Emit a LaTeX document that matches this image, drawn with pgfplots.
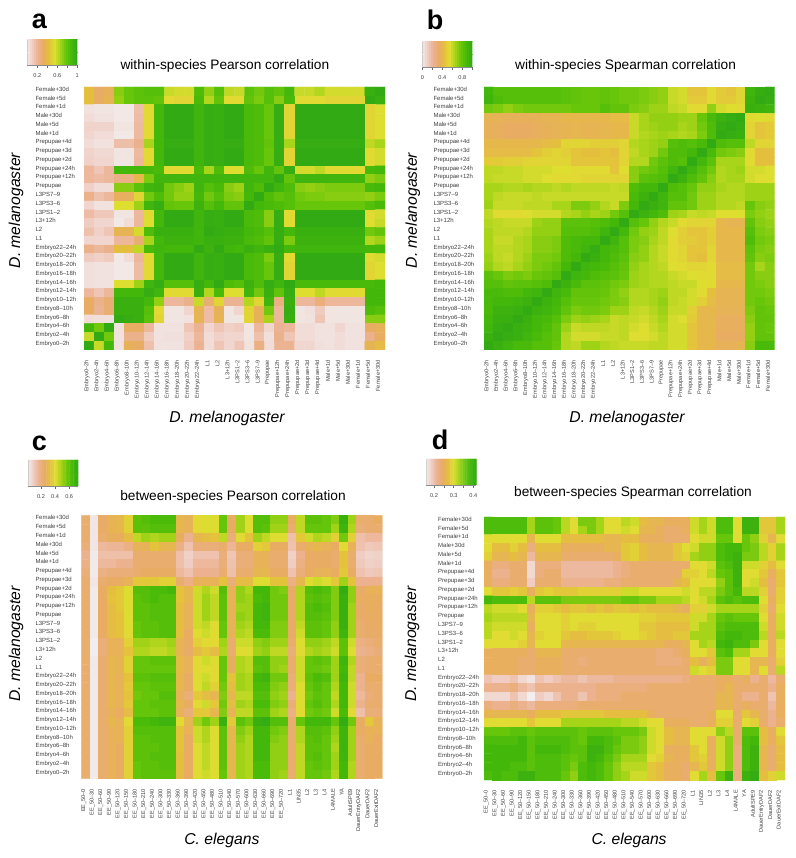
\documentclass[border=0pt]{standalone}
\usepackage{fontspec}
\setmainfont{Liberation Sans}
\usepackage{pgfplots}
\pgfplotsset{compat=1.18}

% rows are written top to bottom, values are correlation x 100
\newcount\rowno
\newcommand{\startmap}{\gdef\cells{}\global\rowno=0 }
\newcommand{\heatrow}[1]{%
  \foreach \v [count=\c from 0] in {#1}{\xdef\cells{\cells (\c,\the\rowno) [\v]}\xdef\lastc{\c}}%
  \ifnum\lastc=\ncols\else\errmessage{row \the\rowno\space has \lastc}\fi
  \global\advance\rowno by 1 }
% key strip: the same values twice, x is the value itself
\newcommand{\barcells}[1]{\gdef\cells{}%
  \foreach \v in {#1}{\xdef\cells{\cells (\v,0) [\v]}}%
  \foreach \v in {#1}{\xdef\cells{\cells (\v,1) [\v]}}}

\def\ncols{29}
\startmap
\heatrow{44,33,36,72,78,82,84,84,60,58,58,86,70,84,62,60,82,76,84,80,90,60,60,64,58,58,58,58,96,100}
\heatrow{44,34,38,70,78,82,82,80,54,52,52,88,64,80,54,54,80,74,84,72,88,54,54,54,52,52,52,52,100,96}
\heatrow{4,3,3,2,2,17,54,90,100,100,100,92,98,97,100,100,88,86,78,98,52,100,100,100,100,100,100,100,52,56}
\heatrow{6,4,4,2,2,18,54,90,100,100,100,92,98,97,100,100,88,86,78,98,52,100,100,100,100,100,100,100,52,56}
\heatrow{9,9,9,3,3,19,54,90,100,100,100,92,98,97,100,100,88,86,78,98,52,100,100,100,100,100,100,100,52,56}
\heatrow{8,6,6,2,2,19,54,90,100,100,100,92,98,97,100,100,88,86,78,98,52,100,100,100,100,100,100,100,52,56}
\heatrow{6,4,4,17,17,24,66,90,98,98,98,92,98,97,98,98,88,86,80,98,66,98,98,98,98,98,98,98,62,66}
\heatrow{9,7,7,3,3,19,54,90,100,100,100,92,98,97,100,100,88,86,78,98,52,100,100,100,100,100,100,100,54,58}
\heatrow{10,8,8,3,3,20,54,90,100,100,100,92,98,97,100,100,88,86,78,98,52,100,100,100,100,100,100,100,54,58}
\heatrow{20,14,20,90,90,90,90,88,54,54,54,88,66,86,56,56,86,78,92,80,98,58,58,62,54,54,54,54,88,90}
\heatrow{20,18,20,25,25,40,74,92,92,92,92,92,92,92,92,92,92,92,92,100,80,92,92,92,92,92,92,92,70,74}
\heatrow{10,6,6,72,72,82,92,94,76,72,68,92,84,88,72,68,92,86,100,92,86,72,70,72,74,74,74,74,88,90}
\heatrow{24,16,20,35,35,52,76,86,76,70,70,90,76,84,74,72,90,100,86,80,84,76,74,74,72,72,72,72,70,74}
\heatrow{8,4,4,56,56,68,92,98,80,78,78,94,84,90,80,80,100,90,88,86,84,78,78,78,78,78,78,78,84,88}
\heatrow{18,13,13,3,3,20,54,90,100,100,100,92,98,97,100,100,88,86,72,98,54,100,100,100,100,100,100,100,54,58}
\heatrow{12,8,8,2,6,20,56,90,100,100,100,92,98,97,100,100,88,86,72,98,54,100,100,100,100,100,100,100,56,60}
\heatrow{16,10,14,38,38,58,86,96,96,96,96,92,100,98,96,96,90,88,84,98,90,96,96,96,96,96,96,96,76,80}
\heatrow{8,8,8,20,20,30,66,90,94,94,94,92,96,96,94,94,88,86,80,98,74,94,94,94,94,94,94,94,64,68}
\heatrow{24,20,24,44,44,62,88,92,90,90,90,100,94,100,92,90,96,92,96,100,90,92,92,92,92,92,92,92,90,90}
\heatrow{12,10,12,2,6,20,54,90,100,100,100,92,98,97,100,100,88,86,74,98,54,100,100,100,100,100,100,100,54,58}
\heatrow{5,4,4,2,2,18,54,90,100,100,100,92,98,97,100,100,88,86,78,98,52,100,100,100,100,100,100,100,52,56}
\heatrow{5,4,4,2,2,18,54,90,100,100,100,92,98,97,100,100,88,86,78,98,52,100,100,100,100,100,100,100,52,56}
\heatrow{5,4,4,56,56,68,92,98,84,84,84,98,90,100,86,84,94,86,98,92,100,88,88,88,88,88,88,88,88,90}
\heatrow{20,14,20,90,90,90,98,92,54,54,54,96,64,88,56,56,92,76,96,80,98,56,56,62,54,54,54,54,90,90}
\heatrow{34,24,30,96,96,96,90,70,20,20,24,60,30,52,22,22,64,52,92,26,96,20,20,28,20,20,20,20,90,90}
\heatrow{34,22,30,96,96,96,84,54,3,3,8,38,18,36,3,8,52,36,76,20,98,3,5,12,3,3,3,3,86,84}
\heatrow{6,5,5,100,98,96,82,52,3,3,4,38,18,38,3,3,52,36,66,20,96,3,4,14,3,3,3,3,72,72}
\heatrow{90,76,100,4,34,34,20,4,4,4,14,22,8,14,10,12,3,20,8,22,20,6,6,4,4,8,4,4,34,36}
\heatrow{60,100,76,4,24,24,12,4,5,5,10,20,6,10,8,8,3,16,5,24,14,6,6,4,4,6,4,4,24,34}
\heatrow{100,60,90,4,36,34,16,4,4,4,12,22,6,14,8,14,4,26,6,22,22,8,8,5,4,6,4,4,38,42}
\global\let\cellsA\cells

\startmap
\heatrow{90,84,84,84,84,84,84,84,82,80,78,78,80,78,76,76,74,72,70,60,58,46,46,54,48,46,52,92,98,100}
\heatrow{92,86,84,84,84,84,84,84,82,80,78,78,80,78,76,76,74,72,70,60,58,48,48,54,48,48,52,94,100,98}
\heatrow{76,74,70,74,76,76,76,76,76,78,78,78,84,80,80,74,72,68,68,62,60,54,54,70,58,56,54,96,94,92}
\heatrow{38,37,36,36,36,36,38,38,40,40,40,40,40,42,42,60,66,70,70,70,68,68,78,88,94,98,100,54,56,54}
\heatrow{36,35,34,34,34,35,36,37,38,39,38,38,39,40,40,60,66,68,70,70,66,68,76,86,98,100,98,52,46,48}
\heatrow{36,35,34,34,34,35,36,37,38,39,38,38,39,40,40,60,64,66,68,66,64,66,74,86,100,98,96,52,46,48}
\heatrow{40,40,40,40,40,40,42,44,52,52,52,50,50,50,52,64,66,68,70,84,86,84,88,100,86,84,84,62,52,52}
\heatrow{42,42,42,42,42,46,50,52,50,46,44,44,46,44,52,62,66,68,76,86,86,90,100,88,76,74,72,54,44,44}
\heatrow{48,48,50,50,52,52,52,52,52,46,46,46,46,46,52,64,64,76,82,86,84,100,90,82,66,66,66,54,44,44}
\heatrow{62,62,60,60,58,58,58,56,56,54,54,54,54,46,56,72,76,78,84,92,100,92,84,76,64,66,68,58,58,56}
\heatrow{62,60,60,60,58,58,56,54,54,54,52,52,52,52,52,72,82,84,86,100,94,86,80,72,64,66,66,58,56,56}
\heatrow{66,66,64,64,66,64,64,62,64,62,62,62,62,60,62,86,90,90,100,86,84,78,70,70,66,64,64,68,68,68}
\heatrow{66,62,60,60,60,62,60,60,60,60,60,60,60,60,60,88,94,100,92,84,84,76,68,68,64,64,64,68,68,68}
\heatrow{68,60,60,60,62,62,62,66,66,74,74,70,64,60,74,90,100,96,92,80,80,76,68,68,64,64,62,78,72,70}
\heatrow{62,54,54,54,56,58,58,58,64,66,70,66,68,76,84,100,94,90,86,68,66,60,62,60,56,56,56,74,70,68}
\heatrow{64,62,60,60,60,68,70,70,82,82,82,84,86,90,100,84,78,70,64,60,54,52,52,52,40,38,38,80,72,70}
\heatrow{66,62,62,62,64,70,70,70,84,84,84,86,92,100,90,76,70,68,62,56,50,46,46,50,40,40,40,84,74,72}
\heatrow{66,60,60,64,66,72,72,74,86,88,90,90,100,92,84,74,72,66,62,54,50,48,46,50,40,40,40,86,76,74}
\heatrow{66,62,62,64,66,72,72,74,86,88,92,98,90,88,84,74,70,64,60,54,52,46,46,52,40,40,40,82,74,72}
\heatrow{68,62,60,64,68,74,74,76,86,90,100,96,90,86,82,72,70,64,60,54,52,46,44,52,40,40,40,80,72,74}
\heatrow{70,64,62,66,70,74,76,80,90,100,92,90,88,84,80,70,66,64,62,56,54,52,52,54,42,42,42,76,66,72}
\heatrow{82,78,74,76,74,78,80,84,100,92,90,86,84,82,78,68,66,64,64,60,58,56,54,54,42,42,42,76,72,72}
\heatrow{84,84,80,82,82,84,86,100,94,88,82,82,80,76,74,68,66,64,64,62,60,60,56,54,40,40,40,76,74,72}
\heatrow{88,88,86,86,90,92,100,92,88,80,80,80,78,74,70,64,64,66,68,62,62,58,54,44,38,38,38,76,76,74}
\heatrow{88,90,90,92,94,100,94,90,84,78,78,78,76,74,72,64,64,66,70,62,60,58,50,42,38,38,38,76,78,76}
\heatrow{88,94,94,96,100,94,92,88,80,74,76,76,74,68,68,62,60,64,68,60,60,50,40,40,37,37,37,74,80,78}
\heatrow{90,96,96,100,96,90,88,84,74,68,70,68,66,60,62,60,58,62,66,58,56,48,40,40,35,35,35,72,80,80}
\heatrow{92,98,100,96,94,90,86,80,68,60,62,62,62,60,62,58,56,60,64,58,58,46,40,40,35,35,35,70,80,78}
\heatrow{96,100,98,96,92,88,84,80,64,58,58,58,60,60,62,56,56,58,62,58,58,46,40,40,34,34,34,70,80,80}
\heatrow{100,96,92,88,88,84,84,78,64,62,68,68,64,62,60,60,60,62,62,58,58,46,40,40,36,36,38,72,88,88}
\global\let\cellsB\cells

\def\ncols{34}
\startmap
\heatrow{24,4,25,29,30,38,60,62,64,64,64,30,28,40,42,42,58,26,50,42,62,62,52,52,26,46,60,60,58,54,70,50,24,24,26}
\heatrow{24,4,25,29,30,38,60,60,62,62,62,30,28,40,42,42,58,26,50,42,62,60,50,50,24,46,58,58,58,50,68,48,22,24,24}
\heatrow{24,4,24,27,27,32,46,50,48,50,50,27,18,30,32,34,46,22,40,34,50,46,42,42,14,36,44,48,46,38,56,38,14,16,16}
\heatrow{22,4,16,17,17,20,28,28,34,30,30,20,13,22,22,22,24,17,26,26,38,36,26,26,13,24,28,30,28,26,40,28,13,11,12}
\heatrow{18,3,14,14,14,14,24,24,24,24,24,14,9,13,13,13,22,12,22,22,28,28,24,24,9,18,26,26,26,24,34,24,10,8,9}
\heatrow{20,3,16,16,18,18,24,24,24,24,24,14,10,16,16,16,22,13,22,22,28,28,24,24,10,20,26,26,26,24,34,24,11,9,10}
\heatrow{22,3,20,22,22,22,24,26,26,26,26,16,13,18,18,18,24,14,24,24,30,30,26,26,13,22,26,28,28,26,36,26,13,11,12}
\heatrow{24,4,24,26,26,28,36,36,36,38,38,24,20,28,28,28,34,22,32,32,42,42,34,34,20,30,42,44,42,36,50,34,18,18,18}
\heatrow{24,3,26,33,36,42,62,62,64,64,66,34,30,44,48,44,62,28,52,48,66,66,56,54,25,48,62,64,62,54,72,52,25,28,28}
\heatrow{24,3,26,34,36,42,60,62,64,62,62,34,30,44,50,46,60,28,52,50,64,66,56,56,25,48,60,62,60,54,70,52,26,27,27}
\heatrow{24,3,26,32,36,42,60,60,62,62,62,33,28,44,50,46,60,28,50,50,66,68,56,56,25,48,62,64,62,54,70,50,25,27,26}
\heatrow{24,3,26,32,34,42,60,60,62,62,62,33,28,44,50,46,60,28,52,50,66,68,56,56,25,48,62,62,60,54,70,50,25,26,26}
\heatrow{24,3,26,32,34,42,58,60,60,62,62,33,28,44,46,42,58,28,50,48,66,66,54,54,25,46,60,60,58,52,70,50,24,25,26}
\heatrow{24,3,26,32,34,40,58,60,60,62,62,33,26,42,44,42,58,28,48,46,64,64,54,54,25,44,60,60,58,52,68,50,24,25,25}
\heatrow{24,2,22,28,28,38,50,50,48,48,50,29,26,38,40,40,50,24,44,44,52,54,50,50,24,42,52,52,50,46,60,44,20,22,24}
\heatrow{24,2,22,28,28,34,48,48,46,46,48,29,25,32,36,32,48,24,42,42,50,52,46,46,22,40,48,50,48,44,60,42,18,20,22}
\heatrow{24,3,24,30,29,38,58,58,60,60,60,31,28,40,44,42,58,27,48,46,62,62,52,52,24,44,58,60,58,50,68,48,22,24,24}
\heatrow{24,3,24,30,29,38,58,58,58,58,58,31,28,40,42,40,58,27,48,46,60,62,52,50,24,44,58,58,56,50,66,46,22,24,24}
\heatrow{24,3,24,30,28,34,60,60,62,62,62,30,26,42,44,40,58,34,50,48,66,68,56,56,22,44,60,64,62,50,68,46,18,26,26}
\heatrow{24,3,24,30,28,36,58,58,60,60,60,30,26,42,46,38,56,32,50,48,64,64,54,52,22,42,58,62,58,48,66,44,18,24,24}
\heatrow{24,3,24,30,28,34,56,58,58,62,62,28,22,36,32,30,54,30,46,46,62,62,52,50,18,42,56,60,58,46,66,44,16,22,24}
\heatrow{24,3,24,30,28,36,58,58,60,60,60,30,26,40,44,36,56,32,50,48,64,64,54,52,22,42,58,62,58,48,66,44,18,24,24}
\heatrow{24,3,24,28,26,32,58,58,58,60,60,28,22,36,36,30,54,28,46,46,60,60,50,48,20,40,56,58,56,44,64,40,14,22,22}
\heatrow{24,3,24,30,28,40,64,64,66,68,68,40,30,50,56,50,70,36,60,56,70,72,62,62,24,58,66,66,66,58,72,56,26,36,28}
\heatrow{24,3,24,28,28,38,62,62,62,62,62,34,28,44,48,42,60,30,54,50,66,66,56,54,24,48,62,62,60,52,68,50,26,28,28}
\heatrow{24,3,24,28,28,38,60,60,62,62,62,34,26,44,48,42,60,30,52,48,66,66,54,52,24,48,60,62,58,50,68,50,24,28,26}
\heatrow{24,3,24,28,26,38,60,60,60,62,62,34,26,42,46,42,60,30,50,48,66,66,52,52,24,46,60,60,58,48,68,50,24,26,26}
\heatrow{24,3,24,28,26,38,60,60,62,62,62,33,26,42,46,42,60,30,50,48,66,66,52,52,24,46,60,62,58,50,68,50,24,26,26}
\heatrow{24,3,24,28,26,38,58,60,60,62,62,33,26,42,46,42,60,30,50,48,64,64,52,52,24,46,58,60,58,50,66,48,24,26,26}
\heatrow{24,3,24,28,26,38,58,60,60,60,60,32,26,42,44,42,58,30,50,48,64,64,52,50,24,46,58,58,56,48,66,48,24,26,26}
\global\let\cellsC\cells

\startmap
\heatrow{38,38,38,38,38,33,37,37,36,32,30,35,35,33,30,30,32,31,27,26,26,25,25,25,31,33,31,38,38,30,40,40,28,28,33}
\heatrow{38,38,38,38,38,33,37,37,36,32,30,33,35,33,30,30,31,30,26,26,25,24,24,25,31,33,31,38,38,30,40,40,28,28,33}
\heatrow{30,30,30,30,30,26,30,30,30,27,27,27,27,27,26,26,27,27,25,25,25,24,24,24,30,31,31,36,36,30,36,34,29,26,30}
\heatrow{30,27,27,29,27,23,27,27,27,25,25,25,25,25,26,26,28,29,27,26,26,26,28,30,31,34,34,38,39,39,36,35,32,29,33}
\heatrow{29,26,26,27,26,21,26,26,26,24,24,24,24,24,24,25,28,29,27,26,26,26,28,29,33,34,34,38,39,40,35,35,32,29,33}
\heatrow{25,23,23,24,24,18,23,23,23,21,21,21,21,21,21,22,23,24,24,24,24,24,24,24,30,30,31,37,38,40,31,31,29,27,30}
\heatrow{25,22,22,24,24,18,23,24,24,21,21,21,21,21,21,22,23,24,24,24,24,24,24,29,29,30,32,36,37,40,30,30,28,25,28}
\heatrow{25,23,23,24,24,19,24,24,24,22,22,22,22,22,23,23,24,24,24,24,24,24,26,27,30,30,30,34,37,40,30,31,27,24,28}
\heatrow{30,28,28,29,28,25,28,29,28,28,28,29,29,29,29,29,31,31,30,30,30,30,30,31,30,32,32,35,37,39,32,32,29,24,29}
\heatrow{39,38,38,38,38,32,37,37,37,35,35,35,35,35,35,35,36,36,35,35,33,33,33,32,30,31,33,37,38,37,38,38,30,25,29}
\heatrow{32,31,31,31,30,25,29,29,28,27,28,28,27,28,27,28,28,27,28,27,27,27,26,25,29,29,31,33,33,33,33,33,29,24,30}
\heatrow{33,32,32,32,32,26,30,30,30,29,30,30,30,30,30,30,30,30,29,29,28,28,28,28,31,31,33,36,37,36,36,36,30,25,31}
\heatrow{32,31,31,31,31,25,30,30,30,29,30,29,29,30,30,30,30,30,28,28,27,27,27,27,31,33,33,37,38,38,38,38,31,25,31}
\heatrow{32,30,30,31,30,26,29,30,30,28,27,27,28,28,28,29,30,30,29,28,27,27,28,28,33,33,33,38,39,39,38,38,32,25,32}
\heatrow{30,30,30,30,29,26,30,30,30,26,26,26,26,26,26,26,26,26,26,26,26,25,25,26,30,33,32,39,40,38,38,35,30,25,30}
\heatrow{25,25,25,25,25,24,26,26,26,24,24,24,24,24,24,24,24,24,24,24,23,23,24,25,30,30,28,37,38,33,33,30,30,25,30}
\heatrow{25,25,25,25,24,24,25,25,25,24,24,23,24,24,24,24,24,24,24,24,23,23,23,24,27,25,27,35,35,30,30,26,26,24,29}
\heatrow{25,25,25,25,24,24,25,25,25,24,24,24,24,24,24,24,24,24,24,24,24,24,24,24,31,30,29,35,35,30,30,26,30,24,32}
\heatrow{20,19,19,20,18,17,20,19,20,21,21,20,21,21,21,22,22,22,22,22,22,22,22,23,24,24,24,25,25,24,25,22,24,21,24}
\heatrow{22,22,22,23,21,20,22,22,22,22,22,22,22,23,23,23,23,23,23,24,24,24,24,24,24,24,24,25,26,24,24,24,24,22,25}
\heatrow{18,18,18,20,18,16,19,18,20,22,22,20,22,23,23,23,24,24,24,24,24,24,24,24,24,24,24,26,26,24,22,22,24,20,25}
\heatrow{23,22,22,23,22,21,23,23,23,23,23,24,24,24,24,24,24,24,24,24,24,24,24,24,24,24,24,26,26,24,25,24,24,21,25}
\heatrow{26,26,26,26,26,25,27,27,27,28,28,28,28,28,27,27,27,27,27,25,24,24,24,24,24,24,25,30,30,24,28,26,24,22,25}
\heatrow{30,30,30,30,30,28,30,30,30,33,33,33,33,33,33,33,32,32,31,30,30,25,25,25,24,24,25,29,29,24,30,29,24,22,24}
\heatrow{36,36,36,37,37,36,37,37,37,37,37,36,37,37,37,36,36,36,35,31,30,27,26,26,30,30,30,34,32,24,37,37,27,25,30}
\heatrow{38,38,38,38,39,37,38,38,38,38,37,36,39,39,38,37,35,35,34,31,30,27,26,26,30,30,25,31,34,24,38,39,27,25,28}
\heatrow{39,39,39,39,39,37,39,39,39,38,37,37,40,40,38,36,35,35,34,31,30,25,25,25,28,30,25,31,34,23,38,40,26,24,27}
\heatrow{39,39,39,39,39,37,38,38,38,37,36,37,40,39,37,35,33,33,33,30,29,26,25,25,28,29,25,31,34,23,38,40,26,24,27}
\heatrow{39,39,39,38,38,37,38,38,38,37,35,38,39,38,36,34,32,32,32,28,27,25,25,24,26,28,25,31,34,23,38,40,26,24,27}
\heatrow{38,39,38,38,40,40,38,38,38,36,34,38,39,38,36,34,33,31,31,28,27,25,25,24,30,33,27,36,40,23,40,41,27,29,31}
\global\let\cellsD\cells

\pgfplotsset{
  colormap={terrain}{rgb255=(242,238,238) rgb255=(240,205,195) rgb255=(236,178,145)
    rgb255=(232,172,100) rgb255=(228,192,60) rgb255=(224,222,50) rgb255=(165,212,25)
    rgb255=(105,198,10) rgb255=(70,185,10) rgb255=(50,170,20)},
  stagesy/.style={ytick={0,...,29},yticklabels={Female+30d,Female+5d,Female+1d,Male+30d,Male+5d,Male+1d,
    Prepupae+4d,Prepupae+3d,Prepupae+2d,Prepupae+24h,Prepupae+12h,Prepupae,L3PS7–9,L3PS3–6,L3PS1–2,L3+12h,L2,L1,
    Embryo22–24h,Embryo20–22h,Embryo18–20h,Embryo16–18h,Embryo14–16h,Embryo12–14h,Embryo10–12h,Embryo8–10h,
    Embryo6–8h,Embryo4–6h,Embryo2–4h,Embryo0–2h}},
  stagesx/.style={xmin=-0.5,xmax=29.5,xtick={0,...,29},xticklabels={Embryo0–2h,Embryo2–4h,Embryo4–6h,Embryo6–8h,
    Embryo8–10h,Embryo10–12h,Embryo12–14h,Embryo14–16h,Embryo16–18h,Embryo18–20h,Embryo20–22h,Embryo22–24h,L1,L2,
    L3+12h,L3PS1–2,L3PS3–6,L3PS7–9,Prepupae,Prepupae+12h,Prepupae+24h,Prepupae+2d,Prepupae+3d,Prepupae+4d,
    Male+1d,Male+5d,Male+30d,Female+1d,Female+5d,Female+30d}},
  wormx/.style={xmin=-0.5,xmax=34.5,xtick={0,...,34},xticklabels={EE\_50–0,EE\_50–30,EE\_50–60,EE\_50–90,EE\_50–120,
    EE\_50–150,EE\_50–180,EE\_50–210,EE\_50–240,EE\_50–300,EE\_50–330,EE\_50–360,EE\_50–390,EE\_50–420,EE\_50–450,
    EE\_50–480,EE\_50–510,EE\_50–540,EE\_50–570,EE\_50–600,EE\_50–630,EE\_50–660,EE\_50–690,EE\_50–720,L1,LIN35,L2,L3,L4,
    L4MALE,YA,AdultSPE9,DauerEntryDAF2,DauerDAF2,DauerExitDAF2}},
  heat/.style={scale only axis,colormap name=terrain,y dir=reverse,ymin=-0.5,ymax=29.5,
    axis line style={draw=none},tick style={draw=none},xticklabel pos=lower,
    every axis title shift=0pt,
    xticklabel style={rotate=90,anchor=east,font=\fontsize{5.6}{6}\selectfont,text=black!75,xshift=-6.7pt,yshift=2pt},
    yticklabel style={anchor=west,font=\fontsize{6}{7}\selectfont,text=black!75,yshift=1.7pt,text height=4.4pt,text depth=1.2pt},
    title style={font=\fontsize{13.7}{15}\selectfont,anchor=center},
    xlabel style={font=\fontsize{15.7}{17}\selectfont\itshape,anchor=center},
    ylabel style={font=\fontsize{15.7}{17}\selectfont\itshape,anchor=center}},
  keybar/.style={scale only axis,colormap name=terrain,anchor=south west,width=50pt,height=26pt,
    ymin=-0.5,ymax=1.5,ytick=\empty,axis x line*=bottom,axis y line*=left,
    axis line style={-,draw=black!45,thin},
    tick align=outside,major tick length=3pt,tick style={draw=black!60,thin},
    xticklabel style={font=\fontsize{5.6}{6}\selectfont,text=black!75,yshift=-2pt}},
}

\begin{document}
\begin{tikzpicture}
\path[use as bounding box] (0,0) rectangle (795pt,858pt);

\begin{axis}[heat,stagesx,stagesy,at={(84pt,508pt)},anchor=south west,width=301pt,height=263pt,
  point meta min=0,point meta max=100,
  yticklabel style={xshift=-52pt},
  title={within-species Pearson correlation},title style={at={(axis description cs:0.468,1.08)}},
  xlabel={D. melanogaster},xlabel style={at={(axis description cs:0.475,-0.262)}},
  ylabel={D. melanogaster},ylabel style={at={(axis description cs:-0.226,0.53)}}]
\edef\plotnow{\noexpand\addplot[matrix plot*,mesh/cols=30,point meta=explicit] coordinates {\cellsA};}\plotnow
\end{axis}

\begin{axis}[heat,stagesx,stagesy,at={(484pt,508pt)},anchor=south west,width=290.7pt,height=263pt,
  point meta min=0,point meta max=100,
  yticklabel style={xshift=-54pt},
  title={within-species Spearman correlation},title style={at={(axis description cs:0.487,1.08)}},
  xlabel={D. melanogaster},xlabel style={at={(axis description cs:0.492,-0.262)}},
  ylabel={D. melanogaster},ylabel style={at={(axis description cs:-0.245,0.53)}}]
\edef\plotnow{\noexpand\addplot[matrix plot*,mesh/cols=30,point meta=explicit] coordinates {\cellsB};}\plotnow
\end{axis}

\begin{axis}[heat,wormx,stagesy,at={(81.3pt,79.3pt)},anchor=south west,width=301pt,height=263pt,
  point meta min=2,point meta max=73,
  yticklabel style={xshift=-49.3pt},
  title={between-species Pearson correlation},title style={at={(axis description cs:0.504,1.07)}},
  xlabel={C. elegans},xlabel style={at={(axis description cs:0.467,-0.235)}},
  ylabel={D. melanogaster},ylabel style={at={(axis description cs:-0.217,0.512)}}]
\edef\plotnow{\noexpand\addplot[matrix plot*,mesh/cols=35,point meta=explicit] coordinates {\cellsC};}\plotnow
\end{axis}

\begin{axis}[heat,wormx,stagesy,at={(484pt,78pt)},anchor=south west,width=301pt,height=263pt,
  point meta min=16.1,point meta max=41.5,
  yticklabel style={xshift=-49.3pt},
  title={between-species Spearman correlation},title style={at={(axis description cs:0.495,1.09)}},
  xlabel={C. elegans},xlabel style={at={(axis description cs:0.482,-0.229)}},
  ylabel={D. melanogaster},ylabel style={at={(axis description cs:-0.239,0.517)}}]
\edef\plotnow{\noexpand\addplot[matrix plot*,mesh/cols=35,point meta=explicit] coordinates {\cellsD};}\plotnow
\end{axis}

% the four colour keys
\barcells{0,4,8,12,16,20,24,28,32,36,40,44,48,52,56,60,64,68,72,76,80,84,88,92,96,100}
\begin{axis}[keybar,at={(27.3pt,793pt)},xmin=0,xmax=100,point meta min=0,point meta max=100,
  xtick={20,40,60,80,100},xticklabels={0.2,,0.6,,1}]
\edef\plotnow{\noexpand\addplot[matrix plot*,mesh/cols=26,point meta=explicit] coordinates {\cells};}\plotnow
\end{axis}
\begin{axis}[keybar,at={(422.3pt,791pt)},xmin=0,xmax=100,point meta min=0,point meta max=100,
  xtick={0,20,40,60,80,100},xticklabels={0,,0.4,,0.8,}]
\edef\plotnow{\noexpand\addplot[matrix plot*,mesh/cols=26,point meta=explicit] coordinates {\cells};}\plotnow
\end{axis}
\barcells{2,5,8,11,14,17,20,23,26,29,32,35,38,41,44,47,50,53,56,59,62,65,68,71,73}
\begin{axis}[keybar,at={(28.3pt,372pt)},xmin=2,xmax=73,point meta min=2,point meta max=73,
  xtick={20,40,60},xticklabels={0.2,0.4,0.6}]
\edef\plotnow{\noexpand\addplot[matrix plot*,mesh/cols=25,point meta=explicit] coordinates {\cells};}\plotnow
\end{axis}
\barcells{16,17,18,19,20,21,22,23,24,25,26,27,28,29,30,31,32,33,34,35,36,37,38,39,40,41,42}
\begin{axis}[keybar,at={(426.3pt,373pt)},xmin=16.1,xmax=41.5,point meta min=16.1,point meta max=41.5,
  xtick={20,25,30,35,40},xticklabels={0.2,,0.3,,0.4}]
\edef\plotnow{\noexpand\addplot[matrix plot*,mesh/cols=27,point meta=explicit] coordinates {\cells};}\plotnow
\end{axis}

\node[font=\fontsize{27}{28}\bfseries] at (39.5pt,837pt) {a};
\node[font=\fontsize{27}{28}\bfseries] at (435pt,838pt) {b};
\node[font=\fontsize{27}{28}\bfseries] at (39.5pt,415pt) {c};
\node[font=\fontsize{27}{28}\bfseries] at (440pt,418pt) {d};
\end{tikzpicture}
\end{document}
